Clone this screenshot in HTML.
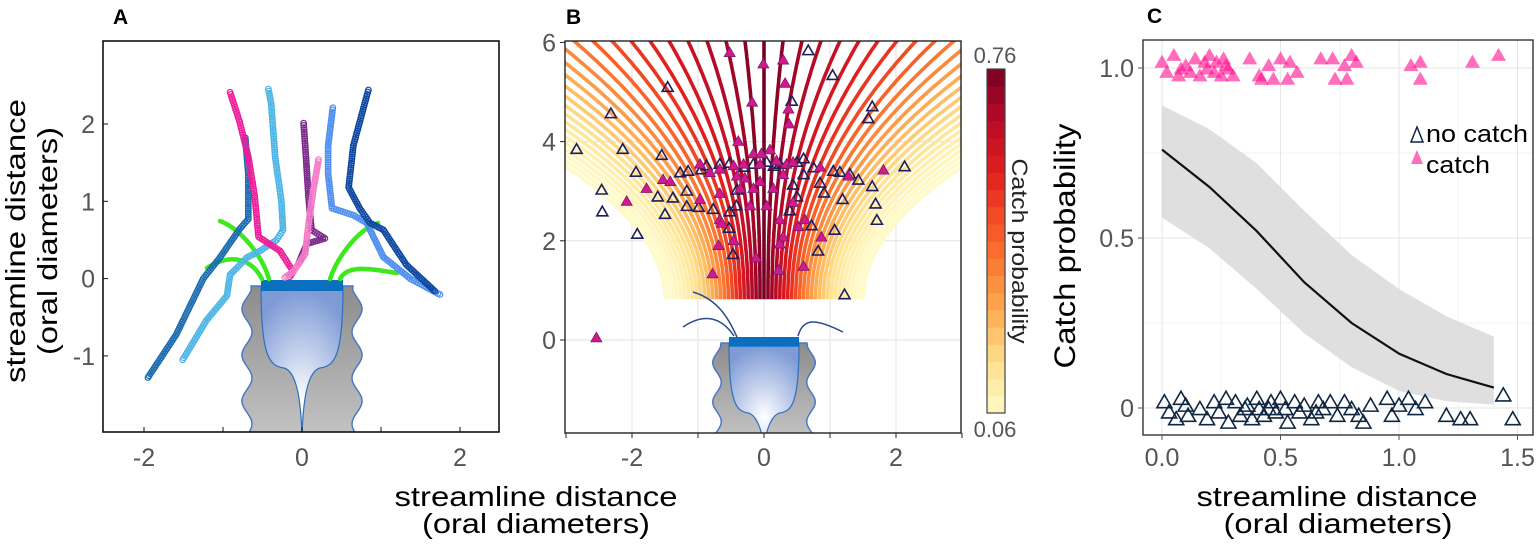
<!DOCTYPE html>
<html><head><meta charset="utf-8"><style>
html,body{margin:0;padding:0;background:#fff;}
svg{display:block;font-family:"Liberation Sans",Arial,sans-serif;}
</style></head><body>
<svg id="fig" width="1536" height="546" viewBox="0 0 1536 546" xmlns="http://www.w3.org/2000/svg">
<defs>
<radialGradient id="cupA" cx="0.5" cy="0.78" r="0.75"><stop offset="0" stop-color="#ffffff"/><stop offset="1" stop-color="#7f9bd6"/></radialGradient>
<linearGradient id="bodyG" x1="0" y1="0" x2="0" y2="1"><stop offset="0" stop-color="#8c8c8c"/><stop offset="1" stop-color="#c4c4c4"/></linearGradient>
<clipPath id="clipA"><rect x="103" y="41" width="396" height="391"/></clipPath>
<clipPath id="clipB"><rect x="565" y="41" width="396" height="392"/></clipPath>
<clipPath id="clipC"><rect x="1143" y="40" width="390" height="395"/></clipPath>
</defs>
<g id="A"></g>
<g id="B"></g>
<g id="C"></g>
</svg>
<script>
// ---------- data ----------
const fitX = [0, 0.2, 0.4, 0.6, 0.8, 1.0, 1.2, 1.4];
const fitY = [0.76, 0.65, 0.52, 0.37, 0.25, 0.16, 0.10, 0.06];
const fitLo = [0.56, 0.47, 0.35, 0.22, 0.12, 0.05, 0.02, 0.01];
const fitHi = [0.89, 0.82, 0.72, 0.58, 0.45, 0.35, 0.27, 0.21];
const cTickX = [0, 0.5, 1.0, 1.5];
const cTickXLabels = ["0.0", "0.5", "1.0", "1.5"];
const cTickY = [0, 0.5, 1.0];
const cTickYLabels = ["0", "0.5", "1.0"];
const catchCx = [0.0,0.02,0.05,0.07,0.1,0.12,0.14,0.16,0.18,0.2,0.22,0.23,0.25,0.26,0.28,0.3,0.37,0.41,0.42,0.45,0.47,0.5,0.53,0.54,0.57,0.67,0.72,0.73,0.77,0.78,0.8,0.82,1.05,1.09,1.09,1.31,1.42,0.08,0.19,0.27];
const catchCy = [1.02,0.99,1.04,0.98,1.01,0.99,1.03,0.98,1.02,1.04,0.99,1.02,0.98,1.03,1.0,0.98,1.03,0.98,0.97,1.01,0.97,1.03,0.97,1.02,0.99,1.03,1.03,0.97,1.01,0.97,1.04,1.02,1.01,1.02,0.97,1.02,1.04,1.0,1.0,1.01];
const noCx = [0.01,0.03,0.06,0.08,0.1,0.11,0.16,0.19,0.22,0.24,0.27,0.28,0.31,0.33,0.36,0.38,0.4,0.41,0.43,0.46,0.48,0.5,0.52,0.53,0.56,0.58,0.6,0.63,0.66,0.68,0.71,0.74,0.77,0.8,0.83,0.85,0.88,0.95,0.97,1.0,1.04,1.07,1.11,1.2,1.26,1.3,1.44,1.48,0.35,0.45,0.65];
const noCy = [0.02,-0.01,-0.03,0.03,0.01,-0.02,0.0,-0.03,0.02,-0.01,0.03,-0.04,0.02,-0.02,0.01,-0.03,0.03,0.0,-0.02,0.02,-0.01,0.03,0.0,-0.04,0.02,-0.01,0.01,-0.03,0.02,0.0,0.02,-0.02,0.02,0.0,-0.02,-0.04,0.01,0.03,-0.02,0.01,0.03,0.0,0.02,-0.02,-0.03,-0.03,0.04,-0.03,0.0,0.0,-0.01];
const bTickX = [-2, 0, 2];
const bTickY = [0, 2, 4, 6];
const streamStarts = [-1.5,-1.44,-1.38,-1.32,-1.26,-1.2,-1.14,-1.08,-1.02,-0.96,-0.9,-0.84,-0.78,-0.72,-0.66,-0.6,-0.54,-0.48,-0.42,-0.36,-0.3,-0.24,-0.18,-0.12,-0.06,0,0.06,0.12,0.18,0.24,0.3,0.36,0.42,0.48,0.54,0.6,0.66,0.72,0.78,0.84,0.9,0.96,1.02,1.08,1.14,1.2,1.26,1.32,1.38,1.44,1.5];
const noBx = [-2.84,-2.32,-1.46,-2.14,-1.94,-2.46,-2.45,-1.92,-1.55,-1.61,-1.5,-1.38,-1.17,-1.17,-0.99,-0.77,-0.52,-0.53,-0.47,-0.42,-0.41,0.42,0.39,0.44,0.5,0.6,0.6,0.67,1.04,0.72,0.82,0.85,0.91,1.05,1.07,1.19,1.43,1.64,1.69,1.71,1.64,1.58,1.22,2.13,-1.27,-1.15,-0.87,-0.67,-0.52,-0.16,0.04,0.24,0.75,1.15,-0.3,0.15,0.5,-0.95,1.3];
const noBy = [3.86,4.58,5.11,3.86,3.4,3.04,2.6,2.15,3.74,2.9,2.55,2.88,3.02,2.71,2.69,2.65,2.6,2.27,1.74,2.72,3.04,4.83,2.62,3.14,2.9,3.35,3.67,5.85,5.35,2.32,1.81,3.18,2.98,3.42,2.23,2.85,3.24,3.11,2.76,2.43,4.72,4.48,0.93,3.51,3.39,3.42,3.53,3.56,3.58,3.56,3.6,3.56,3.49,3.4,3.5,3.52,3.6,3.45,3.36];
const catchBx = [-0.52,-0.01,0.29,0.32,-0.18,0.37,0.38,-0.39,-0.16,-0.04,0.09,-0.97,-0.82,-0.67,-0.46,-0.31,-0.06,0.19,0.34,0.44,0.85,1.28,1.81,-1.78,-1.53,-1.42,-2.08,-0.97,-0.67,-0.67,-0.64,-0.46,-0.69,-0.21,0.04,-0.16,0.14,-0.06,-0.41,-0.29,0.24,0.29,0.24,0.44,0.52,0.62,0.87,0.6,0.22,-0.12,-0.78,-2.54,0.29,-0.36];
const catchBy = [5.81,5.58,5.66,5.19,4.81,4.67,4.37,4.02,3.77,3.77,3.85,3.56,3.39,3.46,3.53,3.56,3.56,3.63,3.56,3.6,3.5,3.32,3.44,3.07,3.25,3.21,2.81,2.85,2.97,2.44,2.37,2.02,1.92,2.72,2.72,3.07,3.07,3.21,3.32,3.28,2.44,2.09,1.95,2.79,2.3,2.44,2.09,1.5,1.42,1.67,1.35,0.06,3.35,3.07];
const aTickX = [-2, 0, 2];
const aTickY = [-1, 0, 1, 2];
const trajColors = ["#1a6bb0","#4db6e6","#ee1e9b","#7b2b8c","#f47cc8","#4f8fef","#0d47a1"];
const trajX = [
 [-1.95,-1.59,-1.25,-1.04,-0.79,-0.68,-0.68,-0.72],
 [-1.51,-1.21,-0.95,-0.91,-0.70,-0.53,-0.32,-0.24,-0.26,-0.34,-0.39,-0.43],
 [-0.91,-0.79,-0.68,-0.60,-0.55,-0.28,-0.11,-0.17],
 [0.02,0.05,0.08,0.12,0.29,0.06,-0.05],
 [0.21,0.14,0.08,0.04,-0.11,-0.24],
 [0.39,0.33,0.33,0.38,0.65,0.82,0.90,1.03,1.37,1.77],
 [0.84,0.65,0.59,0.73,0.86,1.03,1.32,1.70]];
const trajY = [
 [-1.28,-0.72,0.0,0.27,0.64,0.77,1.36,1.85],
 [-1.05,-0.54,-0.22,0.05,0.27,0.36,0.50,0.63,0.99,1.58,2.26,2.48],
 [2.41,2.03,1.58,1.08,0.54,0.36,0.09,0.0],
 [2.01,1.58,1.08,0.63,0.52,0.45,0.18],
 [1.54,1.13,0.68,0.32,0.09,0.0],
 [2.21,1.71,1.36,0.91,0.82,0.72,0.55,0.28,0.0,-0.22],
 [2.44,1.72,1.18,0.91,0.72,0.63,0.18,-0.18]];

// ---------- helpers ----------
const NS = "http://www.w3.org/2000/svg";
function mk(parent, tag, attrs, text){
  const e = document.createElementNS(NS, tag);
  for (const k in attrs) e.setAttribute(k, attrs[k]);
  if (text !== undefined) e.textContent = text;
  parent.appendChild(e);
  return e;
}
function interp(xs, ys, x){
  if (x <= xs[0]) return ys[0];
  for (let i=1;i<xs.length;i++){ if (x <= xs[i]){ const t=(x-xs[i-1])/(xs[i]-xs[i-1]); return ys[i-1]+t*(ys[i]-ys[i-1]); } }
  return ys[ys.length-1];
}
const ylorrd = [[0,[255,250,200]],[0.15,[254,224,140]],[0.3,[253,170,80]],[0.5,[250,100,40]],[0.7,[225,30,30]],[0.85,[185,10,40]],[1,[120,0,35]]];
function cmap(t){
  t=Math.max(0,Math.min(1,t));
  for (let i=1;i<ylorrd.length;i++){ if (t<=ylorrd[i][0]){ const a=ylorrd[i-1], b=ylorrd[i]; const u=(t-a[0])/(b[0]-a[0]); const c=a[1].map((v,j)=>Math.round(v+u*(b[1][j]-v))); return `rgb(${c[0]},${c[1]},${c[2]})`; } }
  return "rgb(120,0,35)";
}
function tri(cx, cy, w){ const h=w*0.87; return `${cx-w/2},${cy+h/2} ${cx+w/2},${cy+h/2} ${cx},${cy-h/2}`; }
function animal(g, cx, top, bottom, hw, bw, name){
  const grp = mk(g, "g", {});
  
  
  const per = 46*hw/55, amp = 5*hw/55;
  let pts=[];
  for (let y=top+4; y<=bottom+2; y+=2){ pts.push([cx-hw + amp*Math.cos((y-top)/per*2*Math.PI), y]); }
  let d = `M${cx-hw+4},${top} ` + pts.map(p=>`L${p[0].toFixed(1)},${p[1]}`).join(' ');
  const rp = pts.slice().reverse().map(p=>`L${(2*cx-p[0]).toFixed(1)},${p[1]}`).join(' ');
  d += ` ${rp} L${cx+hw-4},${top} Z`;
  mk(grp, "path", {d, fill:"url(#bodyG)", stroke:"#4a78c8", "stroke-width":1.5});
  const s = hw/55, ny = top + 80*s;
  const cup = `M${cx-bw},${top} C${cx-bw},${ny-10*s} ${cx-bw+8*s},${ny} ${cx-18*s},${ny+2*s} C${cx-4*s},${ny+6*s} ${cx-1},${ny+40*s} ${cx},${bottom} C${cx+1},${ny+40*s} ${cx+4*s},${ny+6*s} ${cx+18*s},${ny+2*s} C${cx+bw-8*s},${ny} ${cx+bw},${ny-10*s} ${cx+bw},${top} Z`;
  mk(grp, "path", {d:cup, fill:"url(#cupA)", stroke:"#2f6fc0", "stroke-width":1.2});
  mk(grp, "rect", {x:cx-bw, y:top-6, width:2*bw, height:9*s+2, fill:"#0b6fc0"});
}

// ================= Panel A =================
(function(){
  const g = document.getElementById('A');
  const X0=302, SX=79, Y0=278.6, SY=77.3;
  const px = x=>X0+x*SX, py = y=>Y0-y*SY;
  const lab = mk(g,"text",{x:113,y:24,"font-size":21,"font-weight":"bold"},"A");
   
  const clip = mk(g,"g",{"clip-path":"url(#clipA)"});
  animal(clip, 302, 286, 436, 55, 41, 'animal-illustration-a');
  const cil = [[[220,221],[243,230],[263,258],[269,279]],[[207,268],[233,251],[253,261],[262,279]],[[378,223],[357,230],[337,258],[330,279]],[[397,273],[367,268],[347,265],[340,279]]];
  cil.forEach((c,i)=>{
    const p = mk(clip,"path",{d:`M${c[0]} C${c[1]} ${c[2]} ${c[3]}`,fill:"none",stroke:"#3de81f","stroke-width":4.5,"stroke-linecap":"round"});
     
  });
  trajX.forEach((xs,k)=>{
    const tg = mk(clip,"g",{fill:"none",stroke:trajColors[k],"stroke-width":1.2});
     
    const ys = trajY[k];
    for (let i=1;i<xs.length;i++){
      const x1=px(xs[i-1]), y1=py(ys[i-1]), x2=px(xs[i]), y2=py(ys[i]);
      const L=Math.hypot(x2-x1,y2-y1), n=Math.max(1,Math.round(L/2.2));
      for (let j=0;j<n;j++){ const t=j/n; mk(tg,"circle",{cx:(x1+t*(x2-x1)).toFixed(1),cy:(y1+t*(y2-y1)).toFixed(1),r:2.8}); }
    }
  });
  const frame = mk(g,"rect",{x:103,y:41,width:396,height:391,fill:"none",stroke:"#111","stroke-width":1.6});
   
  [-2,-1,0,1,2].forEach(v=>mk(g,"line",{x1:px(v),x2:px(v),y1:432,y2:427,stroke:"#111","stroke-width":1}));
  aTickX.forEach(v=>{ const t=mk(g,"text",{x:px(v),y:466,"text-anchor":"middle","font-size":25,fill:"#555"},String(v));   });
  aTickY.forEach(v=>{ const t=mk(g,"text",{x:95,y:py(v)+9,"text-anchor":"end","font-size":25,fill:"#555"},String(v));   mk(g,"line",{x1:103,x2:108,y1:py(v),y2:py(v),stroke:"#111"}); });
  const t1=mk(g,"text",{transform:"translate(25,241) rotate(-90)","text-anchor":"middle","font-size":28,textLength:284,lengthAdjust:"spacingAndGlyphs"},"streamline distance");
   
  const t2=mk(g,"text",{transform:"translate(57,241) rotate(-90)","text-anchor":"middle","font-size":28,textLength:228,lengthAdjust:"spacingAndGlyphs"},"(oral diameters)");
   
  const t3=mk(g,"text",{x:536,y:506,"text-anchor":"middle","font-size":28,textLength:283,lengthAdjust:"spacingAndGlyphs"},"streamline distance");
   
  const t4=mk(g,"text",{x:536,y:533,"text-anchor":"middle","font-size":28,textLength:228,lengthAdjust:"spacingAndGlyphs"},"(oral diameters)");
   
})();

// ================= Panel B =================
(function(){
  const g = document.getElementById('B');
  const X0=764, SX=66, Y0=340, SY=49.6;
  const px = x=>X0+x*SX, py = y=>Y0-y*SY;
  const lab = mk(g,"text",{x:566,y:24,"font-size":21,"font-weight":"bold"},"B");
   
  [-2,-1,0,1,2].forEach(v=>mk(g,"line",{x1:px(v),x2:px(v),y1:41,y2:433,stroke:"#e2e2e2","stroke-width":1}));
  [0,2,4].forEach(v=>mk(g,"line",{x1:565,x2:961,y1:py(v),y2:py(v),stroke:"#e2e2e2","stroke-width":1}));
  const clip = mk(g,"g",{"clip-path":"url(#clipB)"});
  const sg = mk(clip,"g",{fill:"none","stroke-width":3.6});
   
  const order = streamStarts.map((v,i)=>i).sort((a,b)=>Math.abs(streamStarts[b])-Math.abs(streamStarts[a]));
  order.forEach(i=>{
    const x0 = streamStarts[i];
    const p = interp(fitX, fitY, Math.abs(x0));
    let d="";
    for (let y=0.82; y<=6.3; y+=0.05){ const x = x0*(1+0.14*(y-0.82)*(y-0.82)); d += (d?"L":"M")+px(x).toFixed(1)+","+py(y).toFixed(1); }
    const s = mk(sg,"path",{d, stroke:cmap((p-0.06)/0.7)});
     
  });
  animal(clip, 764, 343, 437, 47, 35, 'animal-illustration-b');
  const bc = [[[683,327],[705,312],[722,318],[734,336]],[[693,292],[720,300],[730,322],[737,337]],[[798,336],[803,318],[815,318],[843,332]]];
  bc.forEach((c,i)=>{ const p=mk(clip,"path",{d:`M${c[0]} C${c[1]} ${c[2]} ${c[3]}`,fill:"none",stroke:"#2c4d8a","stroke-width":1.5});   });
  noBx.forEach((x,i)=>{ const t=mk(clip,"polygon",{points:tri(px(x),py(noBy[i]),11),fill:"none",stroke:"#1a1f5c","stroke-width":1.6});   });
  catchBx.forEach((x,i)=>{ const t=mk(clip,"polygon",{points:tri(px(x),py(catchBy[i]),11),fill:"#d4188f",stroke:"#7a1a6a","stroke-width":0.8});   });
  const frame = mk(g,"rect",{x:565,y:41,width:396,height:392,fill:"none",stroke:"#222","stroke-width":1.4});
   
  [-3,-2,-1,0,1,2,3].forEach(v=>mk(g,"line",{x1:px(v),x2:px(v),y1:433,y2:438,stroke:"#222"}));
  bTickX.forEach(v=>{ const t=mk(g,"text",{x:px(v),y:466,"text-anchor":"middle","font-size":25,fill:"#555"},String(v));   });
  bTickY.forEach(v=>{ const t=mk(g,"text",{x:556,y:py(v)+9,"text-anchor":"end","font-size":25,fill:"#555"},String(v));   mk(g,"line",{x1:560,x2:565,y1:py(v),y2:py(v),stroke:"#222"}); });
  const cb = mk(g,"g",{});
   
  const N=20, top=69, bot=413;
  for (let k=0;k<N;k++){ const h=(bot-top)/N; mk(cb,"rect",{x:987,y:(bot-(k+1)*h).toFixed(2),width:18,height:(h+0.6).toFixed(2),fill:cmap((k+0.5)/N)}); }
  mk(cb,"rect",{x:987,y:top,width:18,height:bot-top,fill:"none",stroke:"#444","stroke-width":1.2});
  const l1=mk(g,"text",{x:995,y:63,"text-anchor":"middle","font-size":22,fill:"#555"},"0.76");  
  const l2=mk(g,"text",{x:995,y:437,"text-anchor":"middle","font-size":22,fill:"#555"},"0.06");  
  const ct=mk(g,"text",{transform:"translate(1012,251) rotate(90)","text-anchor":"middle","font-size":22,fill:"#222",textLength:185,lengthAdjust:"spacingAndGlyphs"},"Catch probability");
   
})();

// ================= Panel C =================
(function(){
  const g = document.getElementById('C');
  const X0=1162, SX=237, Y0=408, SY=340;
  const px = x=>X0+x*SX, py = y=>Y0-y*SY;
  const lab = mk(g,"text",{x:1147,y:23,"font-size":21,"font-weight":"bold"},"C");
   
  [0.25,0.75,1.25].forEach(v=>mk(g,"line",{x1:px(v),x2:px(v),y1:40,y2:435,stroke:"#f3f3f3"}));
  [0.25,0.75].forEach(v=>mk(g,"line",{x1:1143,x2:1533,y1:py(v),y2:py(v),stroke:"#f3f3f3"}));
  cTickX.forEach(v=>mk(g,"line",{x1:px(v),x2:px(v),y1:40,y2:435,stroke:"#e6e6e6"}));
  cTickY.forEach(v=>mk(g,"line",{x1:1143,x2:1533,y1:py(v),y2:py(v),stroke:"#e6e6e6"}));
  const clip = mk(g,"g",{"clip-path":"url(#clipC)"});
  let band = fitX.map((x,i)=>`${px(x)},${py(fitHi[i])}`).join(' ') + ' ' + fitX.slice().reverse().map((x,i)=>`${px(x)},${py(fitLo[fitX.length-1-i])}`).join(' ');
  const b = mk(clip,"polygon",{points:band,fill:"#dcdcdc","fill-opacity":0.9});  
  const line = mk(clip,"polyline",{points:fitX.map((x,i)=>`${px(x)},${py(fitY[i])}`).join(' '),fill:"none",stroke:"#111","stroke-width":2.2});
   
  noCx.forEach((x,i)=>{ const t=mk(clip,"polygon",{points:tri(px(x),py(noCy[i]),15),fill:"none",stroke:"#0f2740","stroke-width":1.6});   });
  catchCx.forEach((x,i)=>{ const t=mk(clip,"polygon",{points:tri(px(x),py(catchCy[i]),15),fill:"#ff1493","fill-opacity":0.62});   });
  const frame = mk(g,"rect",{x:1143,y:40,width:390,height:395,fill:"none",stroke:"#222","stroke-width":1.3});
   
  cTickX.forEach((v,i)=>{ const t=mk(g,"text",{x:px(v),y:466,"text-anchor":"middle","font-size":25,fill:"#555"},cTickXLabels[i]);   mk(g,"line",{x1:px(v),x2:px(v),y1:435,y2:440,stroke:"#555"}); });
  cTickY.forEach((v,i)=>{ const t=mk(g,"text",{x:1134,y:py(v)+9,"text-anchor":"end","font-size":25,fill:"#555"},cTickYLabels[i]);   mk(g,"line",{x1:1138,x2:1143,y1:py(v),y2:py(v),stroke:"#555"}); });
  const yt=mk(g,"text",{transform:"translate(1075,246) rotate(-90)","text-anchor":"middle","font-size":30,textLength:245,lengthAdjust:"spacingAndGlyphs"},"Catch probability");
   
  const x1=mk(g,"text",{x:1337,y:506,"text-anchor":"middle","font-size":28,textLength:281,lengthAdjust:"spacingAndGlyphs"},"streamline distance");
   
  const x2=mk(g,"text",{x:1338,y:533,"text-anchor":"middle","font-size":28,textLength:229,lengthAdjust:"spacingAndGlyphs"},"(oral diameters)");
   
  const lg = mk(g,"g",{});
   
  const e1 = mk(lg,"g",{});  
  mk(e1,"polygon",{points:"1411,142 1423,142 1417,127",fill:"none",stroke:"#0f2740","stroke-width":1.5});
  mk(e1,"text",{x:1426,y:142,"font-size":24,textLength:102,lengthAdjust:"spacingAndGlyphs"},"no catch");
  const e2 = mk(lg,"g",{});  
  mk(e2,"polygon",{points:"1411,164 1423,164 1417,150",fill:"#ff1493","fill-opacity":0.62});
  mk(e2,"text",{x:1426,y:173,"font-size":24,textLength:64,lengthAdjust:"spacingAndGlyphs"},"catch");
})();
</script>
</body></html>
